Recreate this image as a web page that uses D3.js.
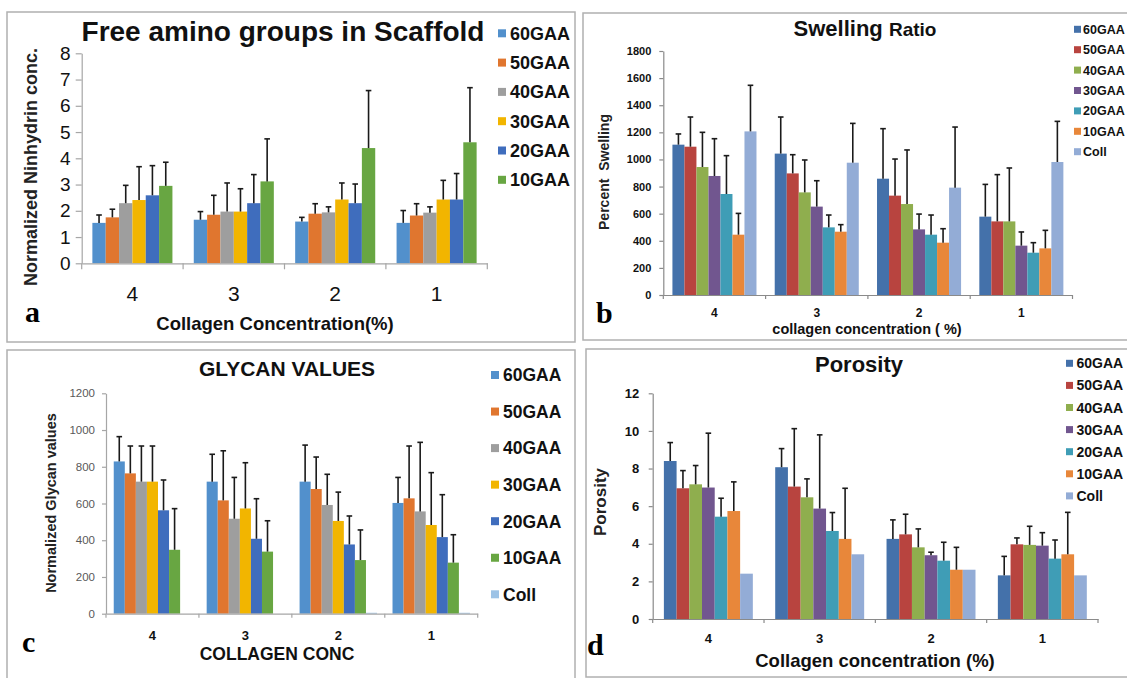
<!DOCTYPE html>
<html>
<head>
<meta charset="utf-8">
<script src="https://cdn.jsdelivr.net/npm/d3@7"></script>
<style>
  html, body { margin: 0; padding: 0; background: #fff; }
  svg { display: block; font-family: "Liberation Sans", Arial, sans-serif; }
</style>
</head>
<body>
<script>
// collagen concentration groups, shared by all four panels
const concLabels = ["4", "3", "2", "1"];
const gaaSeries = ["60GAA", "50GAA", "40GAA", "30GAA", "20GAA", "10GAA"];
const gaaCollSeries = ["60GAA", "50GAA", "40GAA", "30GAA", "20GAA", "10GAA", "Coll"];

// a - free amino groups (normalized ninhydrin), rows = series, cols = groups
const aminoMean = [
  [1.54, 1.66, 1.59, 1.54],
  [1.75, 1.85, 1.89, 1.82],
  [2.29, 1.97, 1.94, 1.93],
  [2.41, 1.97, 2.43, 2.43],
  [2.59, 2.29, 2.29, 2.43],
  [2.95, 3.12, 4.39, 4.61]
];
const aminoErrTop = [
  [1.84, 1.97, 1.75, 2.01],
  [2.06, 2.59, 2.27, 2.27],
  [2.97, 3.06, 2.15, 2.15],
  [3.68, 2.84, 3.06, 3.16],
  [3.72, 3.38, 3.02, 3.42],
  [3.85, 4.74, 6.58, 6.69]
];
const aminoTicks = [0, 1, 2, 3, 4, 5, 6, 7, 8];

// b - swelling ratio
const swellMean = [
  [1109, 1043, 858, 578],
  [1094, 897, 733, 543],
  [944, 757, 671, 543],
  [878, 652, 484, 364],
  [745, 499, 445, 312],
  [445, 467, 386, 344],
  [1207, 976, 792, 981]
];
const swellErrTop = [
  [1188, 1313, 1227, 816],
  [1313, 1035, 1003, 888],
  [1200, 996, 1070, 937],
  [1153, 843, 597, 465],
  [1028, 590, 590, 386],
  [602, 519, 489, 477],
  [1547, 1266, 1239, 1281]
];
const swellTicks = [0, 200, 400, 600, 800, 1000, 1200, 1400, 1600, 1800];

// c - glycan values
const glycanMean = [
  [829, 719, 719, 603],
  [764, 617, 679, 628],
  [719, 517, 592, 557],
  [719, 573, 505, 483],
  [563, 408, 377, 417],
  [348, 338, 292, 278],
  [0, 0, 5, 5]
];
const glycanErrTop = [
  [964, 868, 918, 742],
  [913, 887, 853, 913],
  [913, 742, 759, 933],
  [913, 822, 662, 768],
  [728, 626, 532, 648],
  [572, 506, 456, 430],
  [0, 0, 5, 5]
];
const glycanTicks = [0, 200, 400, 600, 800, 1000, 1200];

// d - porosity
const porosityMean = [
  [8.40, 8.07, 4.26, 2.32],
  [6.95, 7.04, 4.50, 3.97],
  [7.16, 6.47, 3.81, 3.94],
  [6.99, 5.87, 3.39, 3.90],
  [5.44, 4.68, 3.10, 3.21],
  [5.74, 4.26, 2.62, 3.44],
  [2.41, 3.44, 2.62, 2.32]
];
const porosityErrTop = [
  [9.38, 9.06, 5.27, 3.33],
  [7.89, 10.12, 5.57, 4.31],
  [8.16, 7.45, 4.79, 4.93],
  [9.88, 9.79, 3.55, 4.59],
  [6.42, 5.66, 4.08, 4.20],
  [7.29, 6.95, 3.81, 5.67],
  [2.41, 3.44, 2.62, 2.32]
];
const porosityTicks = [0, 2, 4, 6, 8, 10, 12];

const office2013 = ["#5290cc", "#e0762f", "#9e9e9e", "#f2b500", "#3f6dbd", "#68a642", "#9dc3e6"];
const office2007 = ["#4471aa", "#b8443f", "#8fae4e", "#71568f", "#3f9db6", "#e8873a", "#93acd6"];

var width = 1127, height = 678;
var svg = d3.select("body").append("svg")
  .attr("width", width)
  .attr("height", height);

var serif = "'Liberation Serif', 'DejaVu Serif', serif";

function drawPanel(p) {
  var g = svg.append("g");

  g.append("rect")
    .attr("x", p.box[0]).attr("y", p.box[1])
    .attr("width", p.box[2] - p.box[0]).attr("height", p.box[3] - p.box[1])
    .attr("fill", "none").attr("stroke", "#b0b0b0").attr("stroke-width", 1.5);

  var x = d3.scaleBand().domain(p.groups).range([p.left, p.right]);
  var xs = d3.scaleBand().domain(p.series).range([0, x.bandwidth()]).paddingOuter(p.outer);
  var y = d3.scaleLinear().domain([0, p.yMax]).range([p.yZero, p.yTop]);

  // bars
  p.series.forEach(function (s, i) {
    g.append("g").attr("fill", p.colors[i])
      .selectAll("rect")
      .data(p.groups)
      .join("rect")
      .attr("x", function (d) { return x(d) + xs(s); })
      .attr("y", function (d, j) { return y(p.mean[i][j]); })
      .attr("width", xs.bandwidth())
      .attr("height", function (d, j) { return y(0) - y(p.mean[i][j]); });
  });

  // error bars (upper half only)
  p.series.forEach(function (s, i) {
    p.groups.forEach(function (d, j) {
      var m = p.mean[i][j], t = p.errTop[i][j];
      if (t <= m) return;
      var cx = x(d) + xs(s) + xs.bandwidth() / 2;
      g.append("line").attr("x1", cx).attr("x2", cx)
        .attr("y1", y(m)).attr("y2", y(t))
        .attr("stroke", "#1a1a1a").attr("stroke-width", 1.6);
      g.append("line").attr("x1", cx - 2.8).attr("x2", cx + 2.8)
        .attr("y1", y(t)).attr("y2", y(t))
        .attr("stroke", "#1a1a1a").attr("stroke-width", 1.6);
    });
  });

  // y axis
  var ya = g.append("g")
    .attr("transform", "translate(" + p.left + ",0)")
    .call(d3.axisLeft(y).tickValues(p.ticks).tickSize(p.tickLen).tickSizeOuter(0)
      .tickPadding(p.yPad).tickFormat(d3.format("d")));
  ya.attr("font-family", null).attr("font-size", p.yFont).attr("font-weight", p.yWeight);
  ya.select(".domain").attr("stroke", p.axisColor).attr("stroke-width", 1.2);
  ya.selectAll(".tick line").attr("stroke", p.axisColor).attr("stroke-width", 1.2);
  ya.selectAll(".tick text").attr("fill", p.yColor);

  // x axis with category labels at band centres
  var xa = g.append("g")
    .attr("transform", "translate(0," + p.yZero + ")")
    .call(d3.axisBottom(x).tickSize(0).tickSizeOuter(0)
      .tickPadding(p.xBase - p.yZero - 0.71 * p.xFont));
  xa.attr("font-family", null).attr("font-size", p.xFont).attr("font-weight", p.xWeight);
  xa.select(".domain").attr("stroke", p.axisColor).attr("stroke-width", 1.2);
  xa.selectAll(".tick text").attr("fill", "#111");

  // tick marks between groups
  var bounds = p.groups.map(function (d) { return x(d); }).concat([p.right]);
  g.selectAll(null).data(bounds).join("line")
    .attr("x1", function (d) { return d; }).attr("x2", function (d) { return d; })
    .attr("y1", p.yZero).attr("y2", p.yZero + p.tickLen)
    .attr("stroke", p.axisColor).attr("stroke-width", 1.2);

  // titles
  var title = g.append("text")
    .attr("x", p.title.x).attr("y", p.title.y)
    .attr("text-anchor", "middle").attr("font-weight", "bold")
    .attr("font-size", p.title.size).attr("fill", "#111");
  p.title.parts.forEach(function (t) {
    title.append("tspan").text(t[0]).attr("font-size", t[1]);
  });

  g.append("text")
    .attr("x", p.xTitle.x).attr("y", p.xTitle.y)
    .attr("text-anchor", "middle").attr("font-weight", "bold")
    .attr("font-size", p.xTitle.size).attr("fill", "#111")
    .style("white-space", "pre")
    .text(p.xTitle.text);

  g.append("text")
    .attr("transform", "translate(" + p.yTitle.x + "," + p.yTitle.y + ") rotate(-90)")
    .attr("text-anchor", "middle").attr("font-weight", "bold")
    .attr("font-size", p.yTitle.size).attr("fill", "#222")
    .style("white-space", "pre")
    .text(p.yTitle.text);

  // legend
  var lg = g.append("g");
  p.series.forEach(function (s, i) {
    var cy = p.legend.y + i * p.legend.step;
    lg.append("rect")
      .attr("x", p.legend.x).attr("y", cy - p.legend.sq / 2)
      .attr("width", p.legend.sq).attr("height", p.legend.sq)
      .attr("fill", p.colors[i]);
    lg.append("text")
      .attr("x", p.legend.tx).attr("y", cy)
      .attr("dy", "0.36em")
      .attr("font-weight", "bold").attr("font-size", p.legend.size)
      .attr("fill", "#111")
      .text(s);
  });

  // panel letter
  g.append("text")
    .attr("x", p.letter.x).attr("y", p.letter.y)
    .attr("font-family", serif).attr("font-weight", "bold")
    .attr("font-size", 30).attr("fill", "#000")
    .text(p.letter.text);
}

// a
drawPanel({
  box: [7, 12, 575, 342],
  groups: concLabels, series: gaaSeries, mean: aminoMean, errTop: aminoErrTop,
  colors: office2013,
  left: 81.7, right: 487.3, yZero: 263.3, yTop: 53.3, yMax: 8, ticks: aminoTicks,
  outer: 0.8, tickLen: 6, yPad: 5, yFont: 19, yWeight: "normal", yColor: "#111",
  xFont: 21, xWeight: "normal", xBase: 301, axisColor: "#a6a6a6",
  title: { x: 283, y: 41, size: 28, parts: [["Free amino groups in Scaffold", 28]] },
  xTitle: { x: 275, y: 330, size: 18.5, text: "Collagen Concentration(%)" },
  yTitle: { x: 37, y: 167, size: 18, text: "Normalized Ninhydrin conc." },
  legend: { x: 498, tx: 510, y: 33.3, step: 29.3, sq: 8, size: 18 },
  letter: { x: 25, y: 322, text: "a" }
});

// b
drawPanel({
  box: [583, 13, 1140, 340],
  groups: concLabels, series: gaaCollSeries, mean: swellMean, errTop: swellErrTop,
  colors: office2007,
  left: 663.3, right: 1072.5, yZero: 295, yTop: 51, yMax: 1800, ticks: swellTicks,
  outer: 0.76, tickLen: 4, yPad: 8, yFont: 11, yWeight: "bold", yColor: "#111",
  xFont: 12, xWeight: "bold", xBase: 317, axisColor: "#8a8a8a",
  title: { x: 865, y: 36, size: 22, parts: [["Swelling ", 22], ["Ratio", 19]] },
  xTitle: { x: 867, y: 334, size: 14.5, text: "collagen concentration ( %)" },
  yTitle: { x: 609, y: 172, size: 14, text: "Percent  Swelling" },
  legend: { x: 1074, tx: 1083, y: 29.3, step: 20.4, sq: 7, size: 12.5 },
  letter: { x: 596, y: 323, text: "b" }
});

// c
drawPanel({
  box: [7, 350, 575, 690],
  groups: concLabels, series: gaaCollSeries, mean: glycanMean, errTop: glycanErrTop,
  colors: office2013,
  left: 106, right: 477.7, yZero: 613.7, yTop: 393.3, yMax: 1200, ticks: glycanTicks,
  outer: 0.7, tickLen: 4, yPad: 7, yFont: 11.5, yWeight: "normal", yColor: "#595959",
  xFont: 13, xWeight: "bold", xBase: 640, axisColor: "#a6a6a6",
  title: { x: 287, y: 376, size: 21, parts: [["GLYCAN VALUES", 21]] },
  xTitle: { x: 277, y: 660, size: 17.5, text: "COLLAGEN CONC" },
  yTitle: { x: 56, y: 503, size: 14.5, text: "Normalized Glycan values" },
  legend: { x: 491, tx: 503, y: 375, step: 36.55, sq: 8, size: 17.5 },
  letter: { x: 22, y: 652, text: "c" }
});

// d
drawPanel({
  box: [586, 349, 1140, 677],
  groups: concLabels, series: gaaCollSeries, mean: porosityMean, errTop: porosityErrTop,
  colors: office2007,
  left: 652.7, right: 1098, yZero: 619, yTop: 393.3, yMax: 12, ticks: porosityTicks,
  outer: 0.88, tickLen: 4, yPad: 9.5, yFont: 13, yWeight: "bold", yColor: "#111",
  xFont: 13, xWeight: "bold", xBase: 643, axisColor: "#8a8a8a",
  title: { x: 859, y: 372, size: 22, parts: [["Porosity", 22]] },
  xTitle: { x: 875, y: 667, size: 18.5, text: "Collagen concentration (%)" },
  yTitle: { x: 606, y: 502, size: 17, text: "Porosity" },
  legend: { x: 1066, tx: 1076.5, y: 363.3, step: 22.1, sq: 7, size: 14 },
  letter: { x: 587, y: 655, text: "d" }
});
</script>
</body>
</html>
